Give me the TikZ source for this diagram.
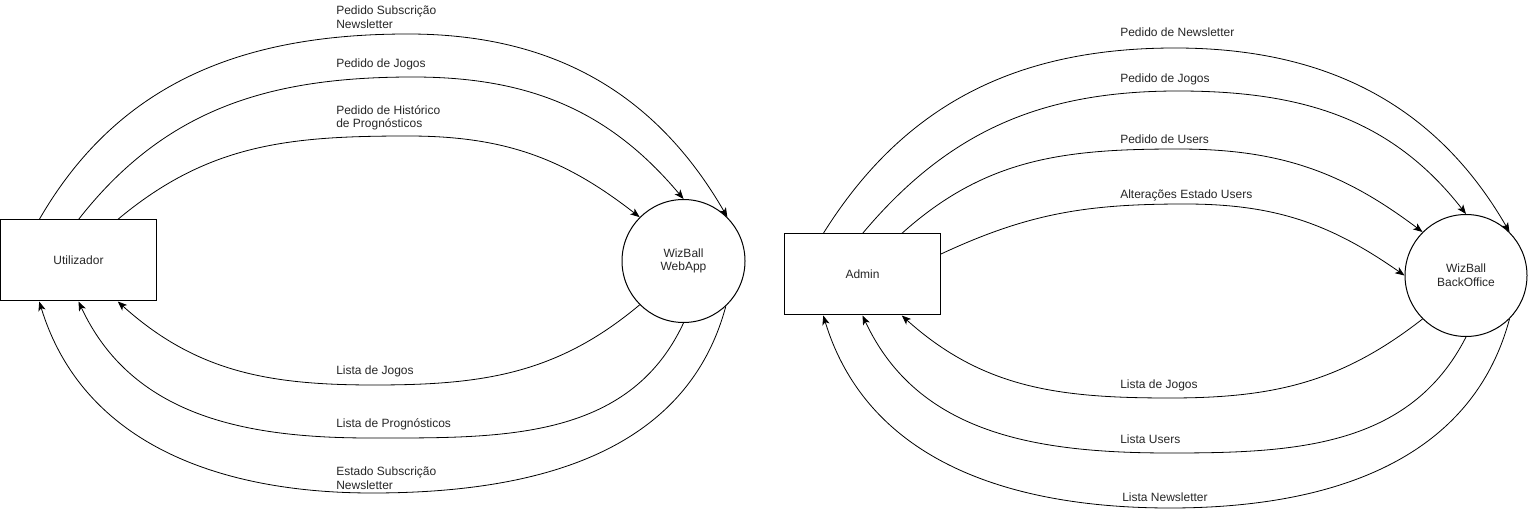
\documentclass[tikz,border=0pt]{standalone}
\usepackage{fontspec}
\setmainfont{Liberation Sans}
\usetikzlibrary{arrows.meta,calc}
\begin{document}
\begin{tikzpicture}[x=0.75pt,y=-0.75pt,
  every node/.style={font=\fontsize{9}{10.2}\selectfont, text=black!85},
  entity/.style={draw, line width=0.75pt, minimum width=117pt, minimum height=60.75pt, inner sep=0pt},
  proc/.style={draw, circle, line width=0.75pt, inner sep=0pt, align=center},
  flow/.style={draw, line width=0.6pt, -{Stealth[length=7pt,width=5.5pt,inset=1.8pt]}},
  lbl/.style={anchor=west, inner sep=0pt, align=left}]
\useasboundingbox (0,0) rectangle (1528,509);
% left diagram
\node[entity] (u) at (78.5,260.5) {\raisebox{-1pt}{Utilizador}};
\node[proc, minimum size=92.25pt] (wb) at (683.5,261) {WizBall\\WebApp};
\coordinate (u1) at ($(u.north west)!0.25!(u.north east)$);
\coordinate (u2) at ($(u.north west)!0.5!(u.north east)$);
\coordinate (u3) at ($(u.north west)!0.75!(u.north east)$);
\coordinate (d1) at ($(u.south west)!0.25!(u.south east)$);
\coordinate (d2) at ($(u.south west)!0.5!(u.south east)$);
\coordinate (d3) at ($(u.south west)!0.75!(u.south east)$);
\coordinate (pt1) at (408,34);
\coordinate (pt2) at (413,77);
\coordinate (pt3) at (408,136);
\coordinate (pb1) at (374,385);
\coordinate (pb2) at (370,438);
\coordinate (pb3) at (372,493);
\draw[flow] (u1) to[out=60,in=180] (pt1) to[out=0,in=120] (wb.45);
\draw[flow] (u2) to[out=52,in=180] (pt2) to[out=0,in=130] (wb.90);
\draw[flow] (u3) to[out=40,in=180] (pt3) to[out=0,in=142] (wb.135);
\draw[flow] (wb.225) to[out=220,in=0] (pb1) to[out=180,in=318] (d3);
\draw[flow] (wb.270) to[out=245,in=0] (pb2) to[out=180,in=295] (d2);
\draw[flow] (wb.313) to[out=255,in=0] (pb3) to[out=180,in=287] (d1);
\node[lbl] (l1) at (336,17.5) {Pedido Subscrição\\Newsletter};
\node[lbl] (l2) at (336,64.5) {Pedido de Jogos};
\node[lbl] (l3) at (336,118) {Pedido de Histórico\\de Prognósticos};
\node[lbl] (l4) at (336,371) {Lista de Jogos};
\node[lbl] (l5) at (336,424.5) {Lista de Prognósticos};
\node[lbl] (l6) at (336,478.5) {Estado Subscrição\\Newsletter};
% right diagram
\node[entity] (a) at (862.5,274.5) {\raisebox{-1pt}{Admin}};
\node[proc, minimum size=91.5pt] (bo) at (1466,275.5) {WizBall\\BackOffice};
\coordinate (a1) at ($(a.north west)!0.25!(a.north east)$);
\coordinate (a2) at ($(a.north west)!0.5!(a.north east)$);
\coordinate (a3) at ($(a.north west)!0.75!(a.north east)$);
\coordinate (a4) at ($(a.north east)!0.25!(a.south east)$);
\coordinate (e1) at ($(a.south west)!0.25!(a.south east)$);
\coordinate (e2) at ($(a.south west)!0.5!(a.south east)$);
\coordinate (e3) at ($(a.south west)!0.75!(a.south east)$);
\coordinate (qt1) at (1175,48);
\coordinate (qt2) at (1178,91);
\coordinate (qt3) at (1178,149);
\coordinate (qt4) at (1185,204);
\coordinate (qb1) at (1170,398);
\coordinate (qb2) at (1170,453);
\coordinate (qb3) at (1170,508);
\draw[flow] (a1) to[out=58,in=180] (qt1) to[out=0,in=120] (bo.45);
\draw[flow] (a2) to[out=50,in=180] (qt2) to[out=0,in=128] (bo.90);
\draw[flow] (a3) to[out=42,in=180] (qt3) to[out=0,in=143] (bo.135);
\draw[flow] (a4) to[out=25,in=180] (qt4) to[out=0,in=145] (bo.180);
\draw[flow] (bo.225) to[out=218,in=0] (qb1) to[out=180,in=318] (e3);
\draw[flow] (bo.270) to[out=243,in=0] (qb2) to[out=180,in=295] (e2);
\draw[flow] (bo.315) to[out=255,in=0] (qb3) to[out=180,in=287] (e1);
\node[lbl] (m1) at (1120,32) {Pedido de Newsletter};
\node[lbl] (m2) at (1120,79) {Pedido de Jogos};
\node[lbl] (m3) at (1120,139.5) {Pedido de Users};
\node[lbl] (m4) at (1120,195.5) {Alterações Estado Users};
\node[lbl] (m5) at (1120,385.5) {Lista de Jogos};
\node[lbl] (m6) at (1120,439) {Lista Users};
\node[lbl] (m7) at (1122,497.5) {Lista Newsletter};
\end{tikzpicture}
\end{document}
